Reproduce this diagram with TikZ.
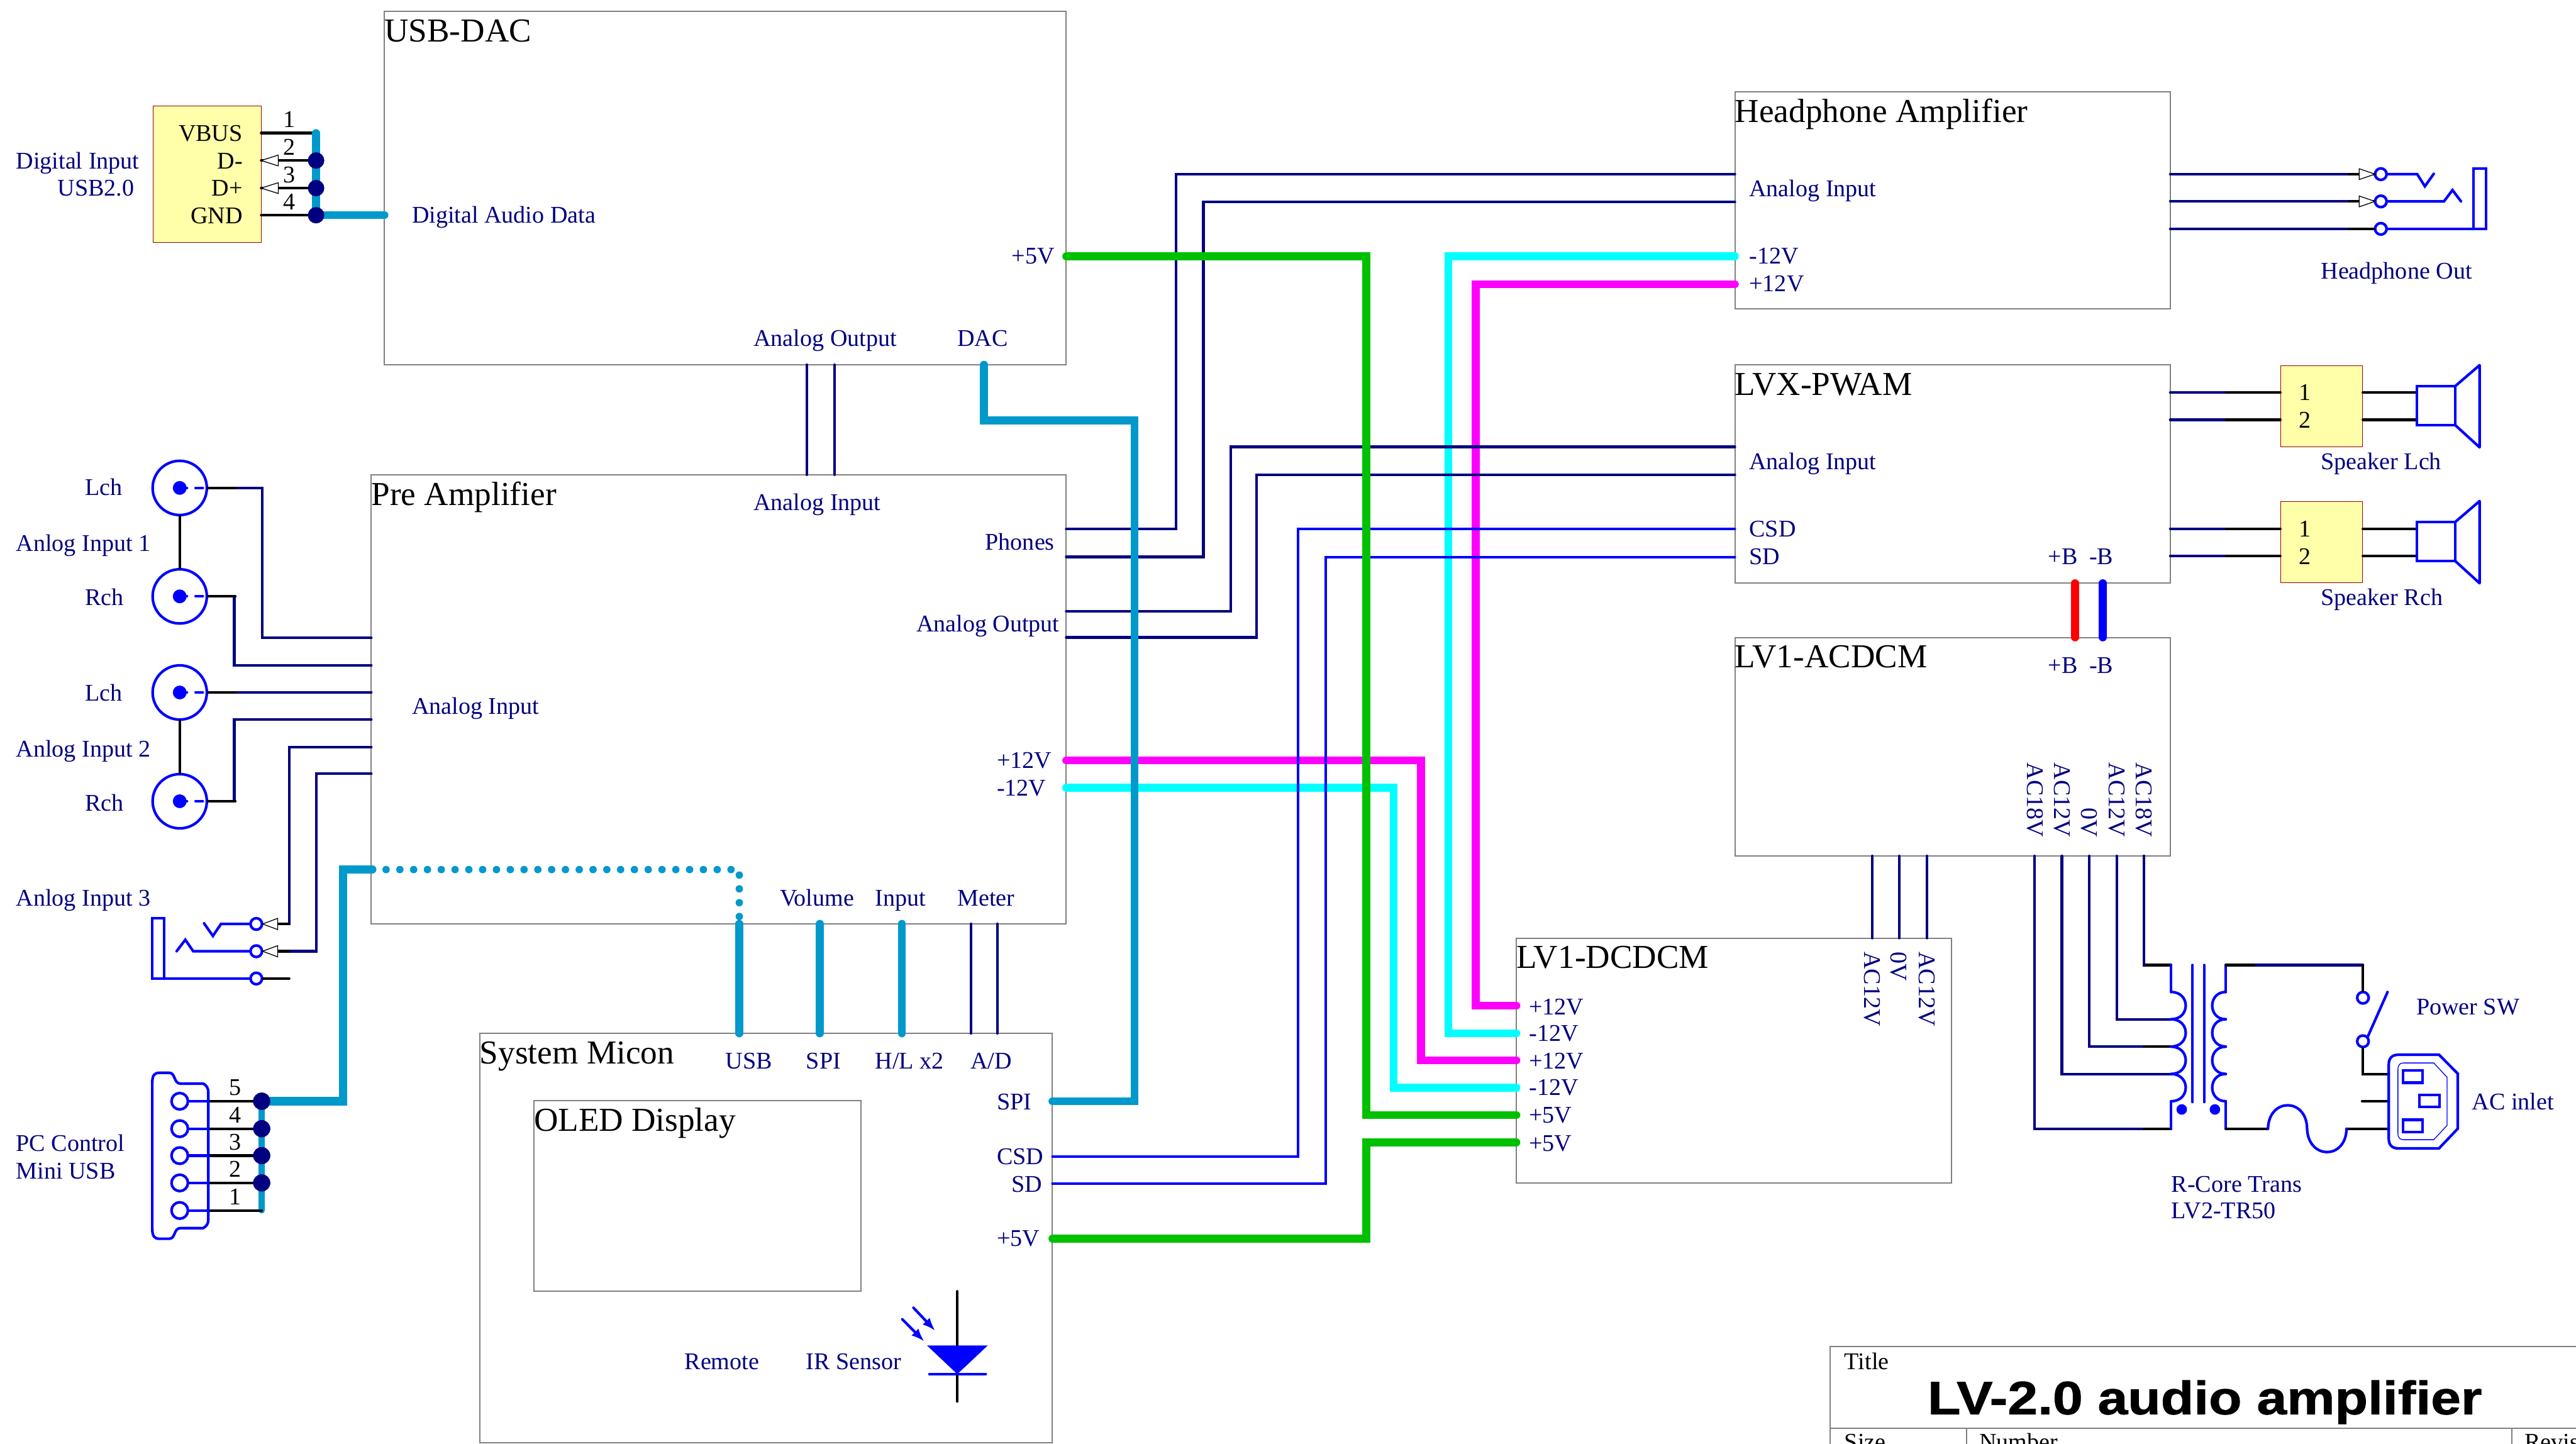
\documentclass[tikz,border=0pt]{standalone}
\usepackage{fontspec}
\setmainfont{Liberation Serif}
\newfontfamily\titlefont{Liberation Sans}[FakeStretch=1.155,FakeBold=1.2]
\usetikzlibrary{arrows.meta}
\definecolor{wirenavy}{RGB}{0,0,128}
\definecolor{busteal}{RGB}{0,153,204}
\definecolor{busgreen}{RGB}{0,192,0}
\definecolor{busmagenta}{RGB}{255,0,255}
\definecolor{buscyan}{RGB}{0,255,255}
\definecolor{busred}{RGB}{255,0,0}
\definecolor{busblue}{RGB}{0,0,255}
\definecolor{connyellow}{RGB}{255,255,170}
\begin{document}
\begin{tikzpicture}[x=0.02cm,y=-0.02cm,line cap=round,
	block/.style={draw=gray,line width=0.015cm,anchor=north west,inner sep=0pt,outer sep=0pt},
	boxtitle/.style={anchor=west,inner sep=0pt,font=\fontsize{11.6}{13}\selectfont,text height=7.7pt,text depth=0pt},
	lbl/.style={anchor=west,inner sep=0pt,text=wirenavy,font=\fontsize{8.3}{10}\selectfont,text height=5.6pt,text depth=0pt},
	pinlbl/.style={lbl,anchor=center,text=black},
	conn/.style={draw=red!60!black,line width=0.006cm,fill=connyellow,anchor=north west,inner sep=0pt},
	wire/.style={draw=wirenavy,line width=0.032cm},
	csdwire/.style={draw=busblue,line width=0.03cm},
	pin/.style={draw=black,line width=0.032cm},
	sym/.style={draw=busblue,line width=0.032cm},
	bus/.style={line width=0.096cm},
	coax/.style={circle,draw=busblue,line width=0.032cm,fill=white,minimum size=0.66cm,inner sep=0pt},
	term/.style={circle,draw=busblue,line width=0.032cm,fill=white,minimum size=0.14cm,inner sep=0pt},
	jdot/.style={circle,fill=wirenavy,minimum size=0.2cm,inner sep=0pt},
	tri/.style={draw=black,line width=0.01cm,fill=white}]

	\clip (0,0) rectangle (1568,878.6);

	% draw the blocks
	\foreach \n/\xa/\ya/\xb/\yb/\txt in {
		dac/234/7/649/222/USB-DAC,
		pre/226/289/649/562.3/Pre Amplifier,
		micon/292/629/640.6/878/System Micon,
		oled/325/670/524/786/OLED Display,
		hpa/1056/56/1321/188/Headphone Amplifier,
		pwam/1056/222/1321/355/LVX-PWAM,
		acdc/1056/388/1321/521/LV1-ACDCM,
		dcdc/923/571/1188/720/LV1-DCDCM} {
		\node[block,minimum width={(\xb-\xa)*0.02cm},minimum height={(\yb-\ya)*0.02cm}] (\n) at (\xa,\ya) {};
		\node[boxtitle] (\n-title) at (\xa-0.3,\ya+11.7) {\txt};
	}

	% the yellow connectors
	\node[conn,minimum width=1.32cm,minimum height=1.66cm] (usbc) at (93,64.5) {};
	\node[conn,minimum width=1cm,minimum height=0.99cm] (spl) at (1388,222.3) {};
	\node[conn,minimum width=1cm,minimum height=0.99cm] (spr) at (1388,305) {};

	% the ports on the blocks
	\foreach \n/\x/\y in {
		dac-ao1/491/222,dac-ao2/508/222,pre-ai1/491/289,pre-ai2/508/289,
		dac-5v/649/156,dac-da/599/222,dac-usb/234/131,
		pre-ph1/649/322,pre-ph2/649/339,pre-ao1/649/372,pre-ao2/649/388,
		pre-p12/649/462.9,pre-m12/649/479.5,
		pre-in1/226/388.3,pre-in2/226/405,pre-in3/226/421.5,pre-in4/226/438,pre-in5/226/454.8,pre-in6/226/471,
		pre-usb/450/562.3,pre-spi/499/562.3,pre-hl/549/562.3,pre-m1/591/562.3,pre-m2/607/562.3,
		mic-usb/450/629,mic-spi/499/629,mic-hl/549/629,mic-ad1/591/629,mic-ad2/607/629,
		mic-sp/640.6/670.3,mic-csd/640.6/704,mic-sd/640.6/720.5,mic-5v/640.6/754,
		hpa-l/1056/106,hpa-r/1056/123,hpa-m12/1056/156,hpa-p12/1056/173,
		hpa-o1/1321/106,hpa-o2/1321/122.6,hpa-o3/1321/139.3,
		pwm-l/1056/272,pwm-r/1056/289,pwm-csd/1056/322,pwm-sd/1056/339,
		pwm-o1/1321/238.9,pwm-o2/1321/255.5,pwm-o3/1321/321.8,pwm-o4/1321/338.5,
		pwm-bp/1263/355,pwm-bm/1280/355,acd-bp/1263/388,acd-bm/1280/388,
		acd-o1/1139.6/521,acd-o2/1156/521,acd-o3/1172.9/521,
		dcd-i1/1139.6/571,dcd-i2/1156/571,dcd-i3/1172.9/571,
		acd-t1/1238.5/521,acd-t2/1255/521,acd-t3/1271.8/521,acd-t4/1288.4/521,acd-t5/1305/521,
		dcd-a/923/612.2,dcd-b/923/628.9,dcd-c/923/645.4,dcd-d/923/662,dcd-e/923/678.7,dcd-f/923/695.3}
		\coordinate (\n) at (\x,\y);

	% the coaxial inputs
	\foreach \n/\y in {la/297,ra/363,lb/421.5,rb/487.7} {
		\node[coax] (\n) at (109.4,\y) {};
		\fill[busblue] (109.4,\y) circle (4.2);
		\draw[sym,dashed,dash pattern=on 2.5 off 3] (\n.center) -- (\n.east);
	}
	\draw[pin] (la) -- (ra);
	\draw[pin] (lb) -- (rb);
	\draw[wire] (la.east) -| (159.5,388.3) -- (pre-in1);
	\draw[wire] (ra.east) -| (142.6,405) -- (pre-in2);
	\draw[wire] (lb.east) -- (pre-in3);
	\draw[wire] (rb.east) -| (142.6,438) -- (pre-in4);
	\foreach \n in {la,ra,lb,rb}
		\draw[pin] (\n.east) -- ++(16.5,0);

	% the input jack
	\node[term] (jt) at (156,562.4) {};
	\node[term] (jr) at (156,579) {};
	\node[term] (js) at (156,595.6) {};
	\coordinate (jtb) at (169,562.4);
	\coordinate (jrb) at (169,579);
	\draw[wire] (pre-in5) -| (176,562.4) -- (jtb);
	\draw[wire] (pre-in6) -| (192.6,579) -- (jrb);
	\draw[pin] (176,562.4) -- (jtb);
	\draw[pin] (176,579) -- (jrb);
	\draw[pin] (js) -- (176,595.6);
	\draw[tri] (159.8,562.4) -- (jtb |- 0,559) -- (jtb |- 0,565.8) -- cycle;
	\draw[tri] (159.8,579) -- (jrb |- 0,575.6) -- (jrb |- 0,582.4) -- cycle;
	\draw[sym] (jt) -- (134.5,562.4) -- (129.6,569.7) -- (124.2,562);
	\draw[sym] (jr) -- (117.6,579) -- (112.8,572) -- (107.5,579);
	\draw[sym] (js) -- (92.7,595.6) -- (92.7,559) -- (99.9,559) -- (99.9,595.6);

	% the usb input connector
	\foreach \i/\y/\txt in {1/81/VBUS,2/97.7/D-,3/114.5/D+,4/131/GND} {
		\coordinate (usbp\i) at (159,\y);
		\coordinate (usbj\i) at (192.4,\y);
		\draw[pin] (usbp\i) -- (usbj\i);
		\node[pinlbl] (usbn\i) at (176,\y-8.3) {\i};
		\node[pinlbl,anchor=east] (usbt\i) at (148,\y) {\txt};
	}
	\foreach \i in {2,3} {
		\draw[tri] (usbp\i) -- ++(10.4,-3.3) -- ++(0,6.6) -- cycle;
	}
	\draw[bus,busteal] (usbj1) -- (usbj4) -- (dac-usb);
	\foreach \i in {2,3,4}
		\node[jdot] (usbd\i) at (usbj\i) {};

	% the mini usb connector
	\foreach \i/\y in {5/670.3,4/687,3/703.4,2/720,1/736.8} {
		\node[term,minimum size=0.2cm] (mu\i) at (109.4,\y) {};
		\coordinate (mue\i) at (126.8,\y);
		\coordinate (muj\i) at (159.3,\y);
		\node[pinlbl] (mun\i) at (143,\y-8.5) {\i};
	}
	\draw[bus,busteal,line width=0.072cm] (muj5) -- (muj1);
	\foreach \i in {1,...,5} {
		\draw[sym] (mu\i) -- (mue\i);
		\draw[pin] (mue\i) -- (muj\i);
	}
	\foreach \i in {2,...,5}
		\node[jdot,minimum size=0.21cm] (mud\i) at (muj\i) {};
	\draw[sym] (92.7,659) .. controls (92.7,654.5) and (94,653) .. (97,653) -- (103,653)
		.. controls (107,653) and (105.5,659.6) .. (110,659.6) -- (123.7,659.6)
		.. controls (125.5,660.5) and (126.8,662) .. (126.8,665) -- (126.8,742.5)
		.. controls (126.8,745) and (125.5,746.5) .. (123.7,747.5) -- (110,747.5)
		.. controls (105.5,747.5) and (107,754) .. (103,754) -- (97,754)
		.. controls (94,754) and (92.7,752.5) .. (92.7,748) -- cycle;

	% the thin signal wires
	\draw[wire] (dac-ao1) -- (pre-ai1);
	\draw[wire] (dac-ao2) -- (pre-ai2);
	\draw[wire] (pre-m1) -- (mic-ad1);
	\draw[wire] (pre-m2) -- (mic-ad2);
	\foreach \i in {1,2,3} {
		\draw[wire] (acd-o\i) -- (dcd-i\i);
	}

	% the power lines go under the others
	\draw[bus,busmagenta] (hpa-p12) -| (898.2,612.2) -- (dcd-a);
	\draw[bus,buscyan] (hpa-m12) -| (881.6,628.9) -- (dcd-b);
	\draw[bus,busmagenta] (pre-p12) -| (865,645.4) -- (dcd-c);
	\draw[bus,buscyan] (pre-m12) -| (848.3,662) -- (dcd-d);

	\draw[wire] (pre-ph1) -| (716,106) -- (hpa-l);
	\draw[wire] (pre-ph2) -| (732.5,123) -- (hpa-r);
	\draw[wire] (pre-ao1) -| (749,272) -- (pwm-l);
	\draw[wire] (pre-ao2) -| (765,289) -- (pwm-r);
	\draw[csdwire] (mic-csd) -| (790.2,322) -- (pwm-csd);
	\draw[csdwire] (mic-sd) -| (807,339) -- (pwm-sd);

	\draw[bus,busteal] (dac-da) |- (690.5,256) -- (690.5,670.3) -- (mic-sp);
	\draw[bus,busgreen] (dac-5v) -| (831.7,678.7) -- (dcd-e);
	\draw[bus,busgreen] (mic-5v) -| (831.7,695.3) -- (dcd-f);
	\draw[bus,busred] (pwm-bp) -- (acd-bp);
	\draw[bus,busblue] (pwm-bm) -- (acd-bm);

	% the usb bus from the mini usb to the pre amplifier and micon
	\coordinate (pre-turn) at (226.6,529.3);
	\draw[bus,busteal,line width=0.1cm] (mud5) -| (209,529.3) -- (pre-turn);
	\draw[bus,busteal,line width=0.09cm,dash pattern=on 0pt off 0.168cm] (pre-turn) -- (450,529.3) -- (pre-usb);
	\draw[bus,busteal] (pre-usb) -- (mic-usb);
	\draw[bus,busteal] (pre-spi) -- (mic-spi);
	\draw[bus,busteal] (pre-hl) -- (mic-hl);
	\node[jdot,minimum size=0.21cm] (mud5b) at (muj5) {};

	% the headphone jack
	\foreach \n/\y/\p in {ht/106/1,hr/122.6/2,hs/139.3/3} {
		\node[term] (\n) at (1449.2,\y) {};
		\draw[wire] (hpa-o\p) -- (1430,\y);
		\draw[pin] (1430,\y) -- (\n);
	}
	\foreach \y in {106,122.6} {
		\draw[tri] (1445.6,\y) -- (1436,\y-3.3) -- (1436,\y+3.3) -- cycle;
	}
	\draw[sym] (ht) -- (1471.3,106) -- (1476,113.4) -- (1481.4,105.8);
	\draw[sym] (hr) -- (1487.6,122.6) -- (1492.8,115.7) -- (1498,122.6);
	\draw[sym] (hs) -- (1513.2,139.3) -- (1513.2,102.6) -- (1505.5,102.6) -- (1505.5,139.3);

	% the speakers
	\foreach \n/\i/\j/\ya/\yb/\yc/\yd/\ye in {
		spl/1/2/238.9/255.5/222.3/235/258.8/272.3,
		spr/3/4/321.8/338.5/305/318.5/342/355} {
		\draw[wire] (pwm-o\i) -- (1355,\ya);
		\draw[wire] (pwm-o\j) -- (1355,\yb);
		\draw[pin] (1355,\ya) -- (\n.west |- 0,\ya);
		\draw[pin] (1355,\yb) -- (\n.west |- 0,\yb);
		\draw[pin] (\n.east |- 0,\ya) -- (1471,\ya);
		\draw[pin] (\n.east |- 0,\yb) -- (1471,\yb);
		\node[pinlbl] (\n-one) at (1403,\ya) {1};
		\node[pinlbl] (\n-two) at (1403,\yb) {2};
		\draw[sym,line join=round] (1494.5,\yc+12.7) -- (1509.3,\yc) -- (1509.3,\yc+50) -- (1494.5,\yc+36.5);
		\draw[sym] (1471,\yc+12.7) rectangle (1494.5,\yc+36.5);
	}

	% the transformer
	\draw[pin] (acd-t5) |- (1321.5,587.4);
	\draw[wire] (acd-t5) -- (1305,587.4);
	\draw[wire] (acd-t4) |- (1321.5,620.5);
	\draw[wire] (acd-t3) |- (1321.5,637.1);
	\draw[wire] (acd-t2) |- (1321.5,653.7);
	\draw[wire] (acd-t1) |- (1321.5,687);
	\draw[pin] (1305,687) -- (1321.5,687);
	\draw[pin] (1305,637.1) -- (1321.5,637.1);
	\draw[sym] (1321.5,587.4) -- (1321.5,603.8);
	\draw[sym] (1321.5,670.4) -- (1321.5,687);
	\draw[sym] (1354.8,587.4) -- (1354.8,603.8);
	\draw[sym] (1354.8,670.4) -- (1354.8,687);
	\foreach \y in {603.8,620.4,637.1,653.7} {
		\draw[sym] (1321.5,\y) .. controls (1333.4,\y) and (1333.4,\y+16.6) .. (1321.5,\y+16.6);
		\draw[sym] (1354.8,\y) .. controls (1343.8,\y) and (1343.8,\y+16.6) .. (1354.8,\y+16.6);
	}
	\draw[sym] (1334.6,587.4) -- (1334.6,670.8);
	\draw[sym] (1341.6,587.4) -- (1341.6,670.8);
	\fill[busblue] (1328,675.3) circle (3.2);
	\fill[busblue] (1348.2,675.3) circle (3.2);

	% the power switch, the fuse and the inlet
	\node[term] (swa) at (1438.3,607.3) {};
	\node[term] (swb) at (1438.3,633.8) {};
	\coordinate (in-l) at (1454,653.7);
	\coordinate (in-e) at (1454,670.3);
	\coordinate (in-n) at (1454,687);
	\draw[wire] (1354.8,587.4) -- (1438.3,587.4);
	\draw[pin] (1354.8,587.4) -- (1372,587.4);
	\draw[pin] (1438.3,587.4) -- (swa);
	\draw[pin] (swb) |- (in-l);
	\draw[pin] (1437.8,670.3) -- (in-e);
	\draw[pin] (1354.8,687) -- (1380.5,687);
	\draw[pin] (1428.3,687) -- (in-n);
	\draw[sym] (swb.north east) -- (1453.3,603.8);
	\draw[sym] (1380.5,687) .. controls (1381,668) and (1404,668) .. (1404.3,687)
		.. controls (1405,706) and (1428,706) .. (1428.3,687);
	\draw[sym] (1454,648) .. controls (1454,644) and (1456,642) .. (1460,642) -- (1484.6,642)
		-- (1496,653.5) -- (1496,687) -- (1484.6,699) -- (1460,699)
		.. controls (1456,699) and (1454,697) .. (1454,693) -- cycle;
	\draw[busblue,line width=0.01cm] (1459.6,651) .. controls (1459.6,648) and (1461,647) .. (1463,647) -- (1481.4,647)
		-- (1489.5,655.7) -- (1489.5,685) -- (1481.4,693.7) -- (1463,693.7)
		.. controls (1461,693.7) and (1459.6,692.7) .. (1459.6,690) -- cycle;
	\draw[sym] (1462.6,651.5) rectangle (1474.7,659);
	\draw[sym] (1472.7,666.6) rectangle (1484.8,673.9);
	\draw[sym] (1462.6,681.6) rectangle (1474.7,689.1);

	% the ir sensor
	\coordinate (ir-top) at (582.7,786);
	\coordinate (ir-bot) at (582.7,853);
	\draw[pin] (ir-top) -- (ir-bot);
	\fill[busblue] (564.3,819) -- (601.2,819) -- (582.7,836.4) -- cycle;
	\draw[sym] (565.7,836.4) -- (600,836.4);
	\draw[sym,-{Latex[length=0.16cm,width=0.12cm]}] (556,796) -- (569.3,810);
	\draw[sym,-{Latex[length=0.16cm,width=0.12cm]}] (549.2,803) -- (562.6,816.5);

	% draw the labels
	\foreach \x/\y/\txt [count=\i] in {
		9.5/97.7/Digital Input,34.8/114.2/USB2.0,250.4/130.7/Digital Audio Data,
		615.4/155.7/+5V,458.4/205.7/Analog Output,582.4/205.7/DAC,458.4/305.7/Analog Input,
		599.4/329.7/Phones,557.4/379.7/Analog Output,606.4/462.7/+12V,606.4/479.7/-12V,250.4/429.7/Analog Input,
		474.4/546.7/Volume,532.4/546.7/Input,582.4/546.7/Meter,
		441.4/645.7/USB,490.4/645.7/SPI,532.4/645.7/{H/L x2},590.4/645.7/{A/D},
		606.4/670.7/SPI,606.4/703.7/CSD,615.4/720.7/SD,606.4/753.7/+5V,416.4/828.7/Remote,490.4/828.7/IR Sensor,
		51.4/296.7/Lch,9.5/330.7/Anlog Input 1,51.4/363.7/Rch,51.4/421.7/Lch,9.5/455.7/Anlog Input 2,51.4/488.7/Rch,
		9.5/546.7/Anlog Input 3,9.5/695.7/PC Control,9.5/712.7/Mini USB,
		1064.4/114.7/Analog Input,1064.4/155.7/-12V,1064.4/172.7/+12V,1412.4/164.7/Headphone Out,
		1064.4/280.7/Analog Input,1064.4/321.7/CSD,1064.4/338.7/SD,1246.4/338.7/+B,1271.4/338.7/-B,
		1412.4/280.7/Speaker Lch,1412.4/363.7/Speaker Rch,1246.4/404.7/+B,1271.4/404.7/-B,
		930.4/612.7/+12V,930.4/628.7/-12V,930.4/645.7/+12V,930.4/661.7/-12V,930.4/678.7/+5V,930.4/695.7/+5V,
		1470.4/612.7/Power SW,1504.4/670.7/AC inlet,1321.4/720.7/R-Core Trans,1321.4/736.7/LV2-TR50}
		\node[lbl] (lbl\i) at (\x,\y) {\txt};

	% the rotated ones
	\foreach \x/\txt [count=\i] in {1239/AC18V,1255.5/AC12V,1272/0V,1288.5/AC12V,1305/AC18V}
		\node[lbl,rotate=-90,anchor=east] (acl\i) at (\x,510) {\txt};
	\foreach \x/\txt [count=\i] in {1139.6/AC12V,1156/0V,1172.9/AC12V}
		\node[lbl,rotate=-90,anchor=west] (dcl\i) at (\x,579) {\txt};

	% the title block
	\node[block,minimum width=10cm,minimum height=2cm] (tblock) at (1114,819.6) {};
	\coordinate (tsplit) at (1114,869.5);
	\draw[block] (tsplit) -- (1600,869.5);
	\draw[block] (1197,869.5) -- (1197,900);
	\draw[block] (1529,869.5) -- (1529,900);
	\node[pinlbl,anchor=west] (ttitle) at (1122.4,828.7) {Title};
	\node[pinlbl,anchor=west] (tsize) at (1122.4,877.5) {Size};
	\node[pinlbl,anchor=west] (tnumber) at (1204.4,877.5) {Number};
	\node[pinlbl,anchor=west] (trev) at (1536.4,877.5) {Revision};
	\node[anchor=base west,inner sep=0pt,font=\titlefont\bfseries\fontsize{16.2}{18}\selectfont] (tname) at (1173,860.8) {LV-2.0 audio amplifier};
\end{tikzpicture}
\end{document}
